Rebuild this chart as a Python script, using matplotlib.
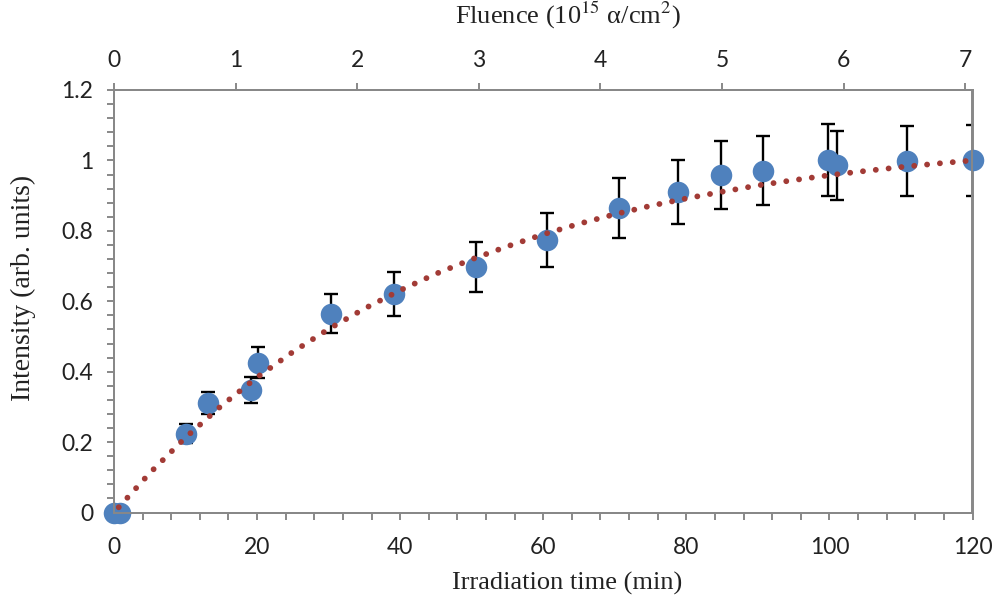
import matplotlib
matplotlib.use("Agg")
import matplotlib.pyplot as plt
from matplotlib.ticker import MultipleLocator

# Measured data
time_min = [0, 0.9, 10.0, 13.1, 19.1, 20.1, 30.3, 39.2, 50.6, 60.5, 70.6, 78.8,
            84.8, 90.7, 99.8, 101.0, 110.9, 120.0]
intensity = [0, 0, 0.224, 0.311, 0.347, 0.425, 0.565, 0.620, 0.696, 0.775, 0.865,
             0.911, 0.958, 0.970, 1.001, 0.986, 0.998, 1.000]
errors = [0, 0, 0.026, 0.031, 0.037, 0.044, 0.056, 0.062, 0.071, 0.077, 0.086,
          0.091, 0.096, 0.098, 0.102, 0.098, 0.100, 0.100]

# Fitted trend curve
fit_time = [0, 5, 10, 15, 20, 25, 30, 35, 40, 45, 50, 55, 60, 65, 70, 75, 80,
            85, 90, 95, 100, 105, 110, 115, 120]
fit_intensity = [0.0, 0.112, 0.213, 0.303, 0.384, 0.456, 0.521, 0.579, 0.631,
                 0.678, 0.719, 0.756, 0.790, 0.820, 0.847, 0.871, 0.892, 0.911,
                 0.929, 0.944, 0.958, 0.970, 0.981, 0.991, 1.000]

x_ticks = [0, 20, 40, 60, 80, 100, 120]
y_ticks = [0, 0.2, 0.4, 0.6, 0.8, 1.0, 1.2]
y_tick_labels = ["0", "0.2", "0.4", "0.6", "0.8", "1", "1.2"]
fluence_ticks = [0, 1, 2, 3, 4, 5, 6, 7]
fluence_max = 7.06

W, H = 997, 609
fig = plt.figure(figsize=(W / 100, H / 100), dpi=100)
ax = fig.add_axes([114 / W, 1 - 512.5 / H, 858.5 / W, 422.5 / H])

spine_col = "#888888"
tick_font = "Lato"
label_font = "Liberation Serif"

ax.errorbar(time_min, intensity, yerr=errors, fmt="none", ecolor="black",
            elinewidth=1.7, capsize=4.7, capthick=1.7, zorder=2)
ax.plot(time_min, intensity, "o", color="#4F81BD", markersize=15.5,
        markeredgewidth=0, zorder=3, clip_on=False)
ax.plot(fit_time, fit_intensity, color="#A23B36", linewidth=4.2,
        linestyle=(1.0, (0.01, 2.2)), dash_capstyle="round", zorder=4)

ax.set_xlim(0, 120)
ax.set_ylim(0, 1.2)
ax.set_xticks(x_ticks)
ax.set_xticklabels([str(v) for v in x_ticks])
ax.set_yticks(y_ticks)
ax.set_yticklabels(y_tick_labels)
ax.xaxis.set_minor_locator(MultipleLocator(4))
ax.yaxis.set_minor_locator(MultipleLocator(0.04))

for s in ax.spines.values():
    s.set_color(spine_col)
    s.set_linewidth(1.4)

ax.tick_params(axis="both", which="both", direction="out", color=spine_col,
               width=1.4, length=5)
ax.tick_params(axis="x", which="major", pad=13)
ax.tick_params(axis="y", which="major", pad=10)
for lab in ax.get_xticklabels() + ax.get_yticklabels():
    lab.set_fontfamily(tick_font)
    lab.set_fontsize(16.5)
    lab.set_color("#222222")

ax2 = ax.twiny()
ax2.set_xlim(0, fluence_max)
ax2.set_xticks(fluence_ticks)
ax2.set_xticklabels([str(v) for v in fluence_ticks])
ax2.tick_params(axis="x", which="major", direction="out", color=spine_col,
                width=1.4, length=5, pad=9)
for s in ax2.spines.values():
    s.set_color(spine_col)
    s.set_linewidth(1.4)
for lab in ax2.get_xticklabels():
    lab.set_fontfamily(tick_font)
    lab.set_fontsize(16.5)
    lab.set_color("#222222")

fig.text(567 / W, 1 - 583 / H, "Irradiation time (min)", ha="center",
         va="center", fontsize=19, family=label_font, color="#222222")
fig.text(568 / W, 1 - 15 / H, r"Fluence (10$^{15}$ α/cm$^{2}$)", ha="center",
         va="center", fontsize=19, family=label_font, color="#222222",
         math_fontfamily="stix")
fig.text(23 / W, 1 - 288 / H, "Intensity (arb. units)", ha="center",
         va="center", rotation=90, fontsize=20, family=label_font,
         color="#222222")

fig.savefig("out.png", dpi=100)
